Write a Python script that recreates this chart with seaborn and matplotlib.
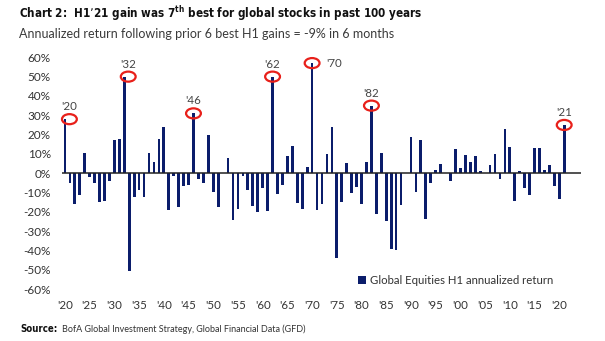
import numpy as np
import pandas as pd
import matplotlib
matplotlib.use("Agg")
import matplotlib.pyplot as plt
from matplotlib.patches import Ellipse
import seaborn as sns

# ---------------- data ----------------
years = list(range(1920, 2022))
returns = [
    28, -5, -16, -11, 10.5, -2, -5, -15, -14.5, -4,          # 1920s
    17, 17.5, 50, -50.5, -12.5, -8.5, -12, 10.5, 6, 17.5,    # 1930s
    24, -19, -1.5, -17.5, -6.5, -6, 31, -3, -5, 20,          # 1940s
    -9.5, -17.5, 0, 8, -24, -18.5, -1.2, -8.5, -17, -20,     # 1950s
    -7.5, -19.5, 50, -10.5, -6, 9, 14, -15.5, -18.5, 3.3,    # 1960s
    57, -19, -16, 10, 24, -44, -15, 5.5, -10, -7,            # 1970s
    -16, 6, 35, -21, 10.5, -24.5, -39, -39.5, -16.5, 0,      # 1980s
    19, -9.5, 17, -23.5, -5, 1.7, 5, 0, -4, 12.5,            # 1990s
    2.5, 9.5, 6, 9, 1, 0.3, 4.5, 10, -3, 23,                 # 2000s
    13.5, -14.5, 1, -7.5, -11, 13, 13, 1.5, 4.5, -6.5,       # 2010s
    -13.5, 25,                                               # 2020s
]
highlight_years = [1920, 1932, 1946, 1962, 1970, 1982, 2021]
highlight_labels = ["'20", "'32", "'46", "'62", "'70", "'82", "'21"]
yticks = [60, 50, 40, 30, 20, 10, 0, -10, -20, -30, -40, -50, -60]
xtick_years = list(range(1920, 2021, 5))
xtick_labels = ["'" + str(y)[2:] for y in xtick_years]
series_name = "Global Equities H1 annualized return"
title = "Chart 2:  H1\u201921 gain was 7$^{\\mathregular{th}}$ best for global stocks in past 100 years"
subtitle = "Annualized return following prior 6 best H1 gains = -9% in 6 months"
source_lbl = "Source:"
source_txt = "BofA Global Investment Strategy, Global Financial Data (GFD)"

df = pd.DataFrame({"year": years, "ret": returns})

# ---------------- style ----------------
sns.set_theme(style="white")
plt.rcParams["font.family"] = ["Lato", "DejaVu Sans"]

NAVY = "#0b1d6b"
RED = "#e8201a"
TXT = "#333333"
W, H = 605, 341

fig = plt.figure(figsize=(6.05, 3.41), dpi=100)
ax = fig.add_axes([62 / W, 1 - 289.3 / H, (581 - 62) / W, (289.3 - 57.3) / H])

sns.barplot(data=df, x="year", y="ret", native_scale=True, color=NAVY,
            saturation=1, width=0.55, linewidth=0, ax=ax, label=series_name)

ax.set_xlim(1919.4, 2024.4)
ax.set_ylim(-60, 60)
ax.axhline(0, color="#222222", lw=1.1, zorder=3)
for s in ax.spines.values():
    s.set_visible(False)
ax.set_xlabel("")
ax.set_ylabel("")
ax.set_yticks(yticks)
ax.set_yticklabels([f"{v}%" for v in yticks], fontsize=8.5, color=TXT)
ax.set_xticks(xtick_years)
ax.set_xticklabels(xtick_labels, fontsize=8.3, color=TXT)
ax.tick_params(axis="y", length=0, pad=8)
ax.tick_params(axis="x", length=0, pad=8)
ax.grid(False)

# highlight circles + labels
offsets = {1920: 0.9, 1932: 0.8}
for yr, lab in zip(highlight_years, highlight_labels):
    val = returns[years.index(yr)]
    cx = yr + offsets.get(yr, 0)
    ax.add_patch(Ellipse((cx, val), width=3.0, height=5.2, fill=False,
                         edgecolor=RED, lw=1.6, zorder=5, clip_on=False))
    if yr == 1970:
        ax.annotate(lab, (yr, val), xytext=(10, 0), textcoords="offset points",
                    ha="left", va="center", fontsize=8.3, color="#444444")
    else:
        ax.annotate(lab, (cx, val), xytext=(0, 9), textcoords="offset points",
                    ha="center", va="center", fontsize=8.3, color="#444444")

leg = ax.legend(loc="center left", bbox_to_anchor=(0.57, 0.04), frameon=False,
                fontsize=8.2, handlelength=0.7, handleheight=0.7, handletextpad=0.4,
                borderaxespad=0, borderpad=0)
for t in leg.get_texts():
    t.set_color(TXT)

# titles (font size fitted to the reference text widths)
renderer = fig.canvas.get_renderer()


def fit(t, target_px):
    w = t.get_window_extent(renderer).width
    t.set_fontsize(t.get_fontsize() * target_px / w)
    return t


t1 = fig.text(19 / W, 1 - 13.5 / H, title, fontsize=10, fontweight="bold",
              fontstretch="condensed", family=["DejaVu Sans"], color="#111111",
              ha="left", va="center")
fit(t1, 404)
t2 = fig.text(19 / W, 1 - 34 / H, subtitle, fontsize=10, fontweight="normal",
              family=["Lato", "DejaVu Sans"], color="#3a3a3a", ha="left", va="center")
fit(t2, 375)
t3 = fig.text(20 / W, 1 - 329 / H, source_lbl, fontsize=6.5, fontweight="bold",
              fontstretch="condensed", family=["DejaVu Sans"], color="#111111",
              ha="left", va="center")
fit(t3, 37)
t4 = fig.text(62 / W, 1 - 329 / H, source_txt, fontsize=6.5,
              family=["Lato", "DejaVu Sans"], color="#333333", ha="left", va="center")
fit(t4, 242)

fig.savefig("out.png", dpi=100)
